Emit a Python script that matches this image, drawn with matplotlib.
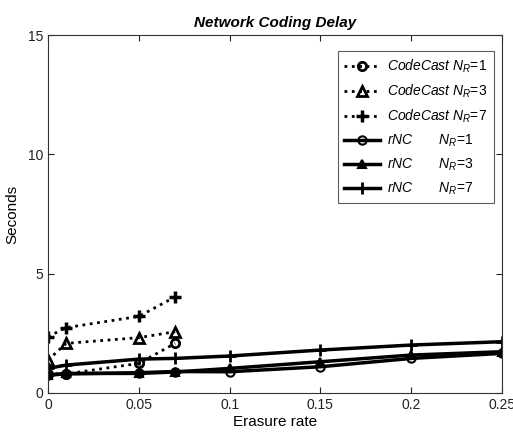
import matplotlib
matplotlib.use("Agg")
import matplotlib.pyplot as plt

plt.rcParams['font.family'] = ['Liberation Sans', 'DejaVu Sans']
plt.rcParams['mathtext.fontset'] = 'custom'
plt.rcParams['mathtext.it'] = 'Liberation Sans:italic'
plt.rcParams['mathtext.rm'] = 'Liberation Sans'

x_cc = [0, 0.01, 0.05, 0.07]
cc_nr1 = [0.80, 0.80, 1.24, 2.08]
cc_nr3 = [1.38, 2.08, 2.32, 2.57]
cc_nr7 = [2.36, 2.74, 3.21, 4.03]

x_rnc = [0, 0.01, 0.05, 0.07, 0.1, 0.15, 0.2, 0.25]
rnc_nr1 = [0.75, 0.80, 0.85, 0.90, 0.89, 1.10, 1.45, 1.66]
rnc_nr3 = [0.75, 0.82, 0.82, 0.88, 1.03, 1.31, 1.59, 1.73]
rnc_nr7 = [1.03, 1.17, 1.42, 1.45, 1.55, 1.80, 2.01, 2.15]

fig = plt.figure(figsize=(5.13, 4.34), dpi=100)
ax = fig.add_axes([0.0936, 0.0945, 0.885, 0.8245])

ax.plot(x_cc, cc_nr1, color='k', ls=':', lw=2, marker='o', mfc='none', mew=2, ms=6,
        label=r'$CodeCast\ N_R$=1')
ax.plot(x_cc, cc_nr3, color='k', ls=':', lw=2, marker='^', mfc='none', mew=2, ms=7,
        label=r'$CodeCast\ N_R$=3')
ax.plot(x_cc, cc_nr7, color='k', ls=':', lw=2, marker='+', mew=2.5, ms=9,
        label=r'$CodeCast\ N_R$=7')
ax.plot(x_rnc, rnc_nr1, color='k', ls='-', lw=2.5, marker='o', mfc='none', mew=1.5, ms=6,
        label=r'$rNC\ \ \ \ \ \ \ N_R$=1')
ax.plot(x_rnc, rnc_nr3, color='k', ls='-', lw=2.5, marker='^', mew=1.5, ms=6,
        label=r'$rNC\ \ \ \ \ \ \ N_R$=3')
ax.plot(x_rnc, rnc_nr7, color='k', ls='-', lw=2.5, marker='+', mew=2, ms=9,
        label=r'$rNC\ \ \ \ \ \ \ N_R$=7')

ax.set_xlim(0, 0.25)
ax.set_ylim(0, 15)
ax.set_xticks([0, 0.05, 0.1, 0.15, 0.2, 0.25])
ax.set_xticklabels(['0', '0.05', '0.1', '0.15', '0.2', '0.25'])
ax.set_yticks([0, 5, 10, 15])
ax.tick_params(direction='in', top=True, right=True, length=4, labelsize=10, colors='#222222')
for s in ax.spines.values():
    s.set_linewidth(0.8)
    s.set_color('#333333')

ax.set_xlabel('Erasure rate', fontsize=11, labelpad=2)
ax.set_ylabel('Seconds', fontsize=11, labelpad=6)
ax.set_title('Network Coding Delay', fontsize=11, fontweight='bold', style='italic', pad=6)

leg = ax.legend(loc='upper right', fontsize=10, frameon=True, fancybox=False,
                edgecolor='#333333', handlelength=2.6, handletextpad=0.5,
                borderpad=0.45, labelspacing=0.55, borderaxespad=0,
                bbox_to_anchor=(0.982, 0.955))
leg.get_frame().set_linewidth(0.8)

fig.savefig('out.png', dpi=100)
